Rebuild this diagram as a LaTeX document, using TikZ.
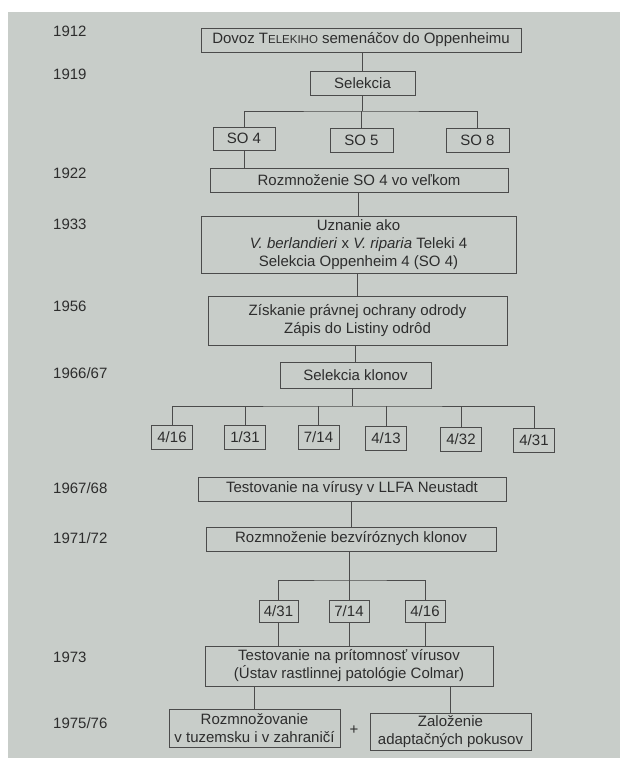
\documentclass[tikz,border=0pt]{standalone}
\usepackage{fontspec}
\setmainfont{Liberation Sans}
\definecolor{pagegray}{RGB}{200,205,201}
\definecolor{inkc}{RGB}{45,45,45}
\definecolor{linec}{RGB}{75,75,75}
\begin{document}
\begin{tikzpicture}[x=1pt,y=-1pt,
  every node/.style={font=\fontsize{15}{18}\selectfont, text=inkc},
  bx/.style={draw=linec, line width=0.8pt, inner sep=0pt, align=center},
  yr/.style={anchor=west, inner sep=0pt},
  conn/.style={draw=linec, line width=0.8pt}]
\useasboundingbox (0,0) rectangle (620,758);
\fill[white] (0,0) rectangle (620,758);
\fill[pagegray] (8,12) rectangle (620,758);
% years
\node[yr] (y1) at (53,31) {1912};
\node[yr] (y2) at (53,74) {1919};
\node[yr] (y3) at (53,173) {1922};
\node[yr] (y4) at (53,224) {1933};
\node[yr] (y5) at (53,306) {1956};
\node[yr] (y6) at (53,373) {1966/67};
\node[yr] (y7) at (53,488) {1967/68};
\node[yr] (y8) at (53,538) {1971/72};
\node[yr] (y9) at (53,657) {1973};
\node[yr] (y10) at (53,723) {1975/76};
% boxes
\node[bx, minimum width=320, minimum height=24] (dovoz) at (361,40) {Dovoz T{\fontsize{11.5}{14}\selectfont ELEKIHO} semenáčov do Oppenheimu};
\node[bx, minimum width=105, minimum height=24] (sel) at (362.5,83) {Selekcia};
\node[bx, minimum width=62, minimum height=23] (so4) at (244,138.5) {SO 4};
\node[bx, minimum width=63, minimum height=24] (so5) at (361.5,140) {SO 5};
\node[bx, minimum width=63, minimum height=24] (so8) at (477.5,140) {SO 8};
\node[bx, minimum width=298, minimum height=24] (rozm) at (359,180) {Rozmnoženie SO 4 vo veľkom};
\node[bx, minimum width=315, minimum height=57] (uzn) at (358.5,244.5) {Uznanie ako\\ \textit{V. berlandieri} x \textit{V. riparia} Teleki 4\\ Selekcia Oppenheim 4 (SO 4)};
\node[bx, minimum width=299, minimum height=49] (zisk) at (357.5,320.5) {Získanie právnej ochrany odrody\\ Zápis do Listiny odrôd};
\node[bx, minimum width=151, minimum height=26] (selk) at (355.5,375) {Selekcia klonov};
\node[bx, minimum width=41, minimum height=24] (c1) at (172,437.5) {4/16};
\node[bx, minimum width=41, minimum height=24] (c2) at (245,437.5) {1/31};
\node[bx, minimum width=41, minimum height=24] (c3) at (318.5,437.5) {7/14};
\node[bx, minimum width=41, minimum height=24] (c4) at (386,438) {4/13};
\node[bx, minimum width=41, minimum height=24] (c5) at (461,439) {4/32};
\node[bx, minimum width=41, minimum height=24] (c6) at (534,440) {4/31};
\node[bx, minimum width=308, minimum height=24] (test1) at (352,489) {Testovanie na vírusy v LLFA Neustadt};
\node[bx, minimum width=290, minimum height=24] (rozb) at (351,539) {Rozmnoženie bezvíróznych klonov};
\node[bx, minimum width=39, minimum height=22] (d1) at (278.5,611) {4/31};
\node[bx, minimum width=40, minimum height=22] (d2) at (349,611) {7/14};
\node[bx, minimum width=40, minimum height=22] (d3) at (425,611) {4/16};
\node[bx, minimum width=288, minimum height=40] (test2) at (349,666) {Testovanie na prítomnosť vírusov\\ (Ústav rastlinnej patológie Colmar)};
\node[bx, minimum width=171, minimum height=38] (rozz) at (254.5,728) {Rozmnožovanie\\ v tuzemsku i v zahraničí};
\node[bx, minimum width=161, minimum height=37] (zal) at (450.5,731.5) {Založenie\\ adaptačných pokusov};
\node (plus) at (354,730) {+};
% connectors
\coordinate (b1) at (361.5,111);
\coordinate (b2) at (352,406);
\coordinate (b3) at (349,580);
\draw[conn] (dovoz.south -| sel.north) -- (sel.north);
\draw[conn] (sel.south) -- (sel.south |- b1);
\draw[conn] (so4.north) |- (b1) -| (so8.north);
\draw[conn] (b1) -- (so5.north);
\draw[conn] (so4.south) -- (so4.south |- rozm.north);
\draw[conn] (rozm.south -| uzn.north) -- (uzn.north);
\draw[conn] (uzn.south -| zisk.north) -- (zisk.north);
\draw[conn] (zisk.south -| selk.north) -- (selk.north);
\draw[conn] (selk.south -| b2) -- (b2);
\draw[conn] (c1.north) |- (b2) -| (c6.north);
\draw[conn] (c2.north) -- (c2.north |- b2);
\draw[conn] (c3.north) -- (c3.north |- b2);
\draw[conn] (c4.north) -- (c4.north |- b2);
\draw[conn] (c5.north) -- (c5.north |- b2);
\draw[conn] (test1.south -| rozb.north) -- (rozb.north);
\draw[conn] (rozb.south -| b3) -- (b3);
\draw[conn] (d1.north) |- (b3) -| (d3.north);
\draw[conn] (b3) -- (d2.north);
\draw[conn] (d1.south) -- (d1.south |- test2.north);
\draw[conn] (d2.south) -- (d2.south |- test2.north);
\draw[conn] (d3.south) -- (d3.south |- test2.north);
\draw[conn] (rozz.north |- test2.south) -- (rozz.north);
\draw[conn] (zal.north |- test2.south) -- (zal.north);
\end{tikzpicture}
\end{document}
